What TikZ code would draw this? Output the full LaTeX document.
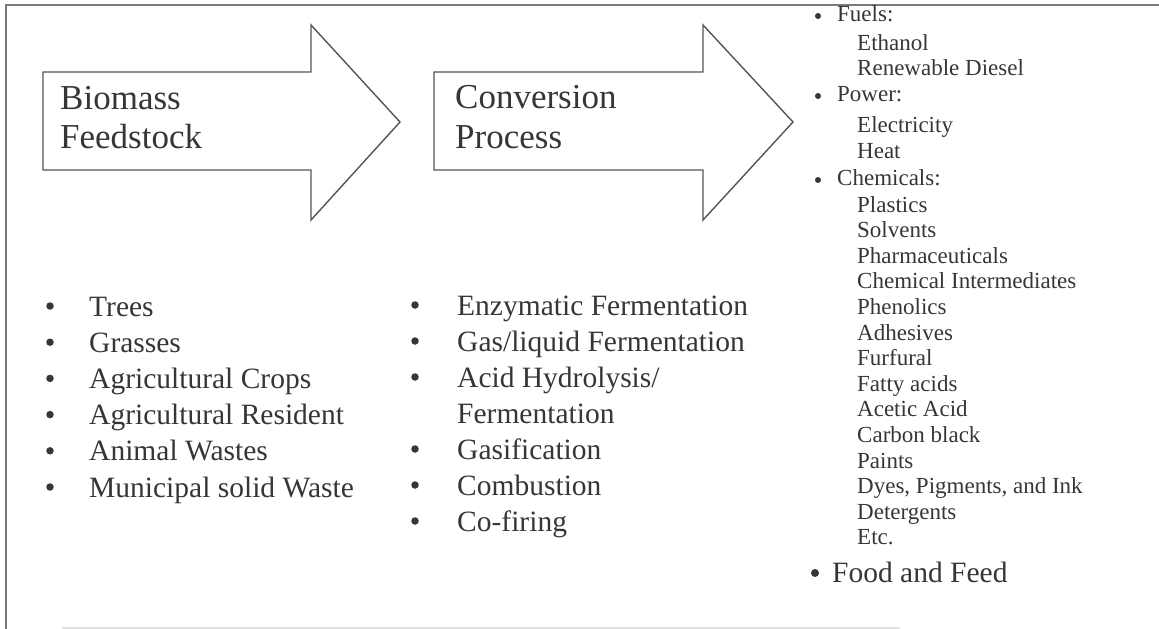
\documentclass[tikz,border=0pt]{standalone}
\usepackage{fontspec}
\setmainfont{Liberation Serif}
\definecolor{txtgray}{HTML}{363636}
\definecolor{linegray}{HTML}{555555}
\definecolor{framegray}{HTML}{7A7A7A}
\definecolor{faintgray}{HTML}{E2E2E2}
\begin{document}
\begin{tikzpicture}[x=1pt,y=-1pt,
  arrowshape/.style={draw=linegray, line width=1.4pt, fill=white, line join=miter},
  bigtxt/.style={anchor=base west, inner sep=0pt, font=\fontsize{35}{39}\selectfont, text=txtgray},
  itemtxt/.style={anchor=base west, inner sep=0pt, font=\fontsize{29.5}{36}\selectfont, text=txtgray},
  smalltxt/.style={anchor=base west, inner sep=0pt, font=\fontsize{23}{26}\selectfont, text=txtgray},
  bigdot/.style={circle, fill=txtgray, inner sep=0pt, minimum size=7.5pt},
  smalldot/.style={circle, fill=txtgray, inner sep=0pt, minimum size=6pt},
  framestyle/.style={draw=framegray, line width=2pt},
  faintstyle/.style={draw=faintgray, line width=1.5pt}]
\useasboundingbox (0,0) rectangle (1159,629);
% frame
\coordinate (ftl) at (6,5);
\coordinate (ftr) at (1159,5);
\coordinate (fbl) at (6,629);
\coordinate (bl) at (62,628);
\coordinate (br) at (900,628);
\draw[framestyle] (ftr) -- (ftl) -- (fbl);
\draw[faintstyle] (bl) -- (br);
% arrow 1
\draw[arrowshape] (43,72) -- (311,72) -- (311,25) -- (400,122) -- (311,220) -- (311,170) -- (43,170) -- cycle;
\node[bigtxt] (bio) at (60,109) {Biomass};
\node[bigtxt] (feed) at (60,148) {Feedstock};
% arrow 2
\draw[arrowshape] (434,72) -- (703,72) -- (703,25) -- (793,122) -- (703,220) -- (703,170) -- (434,170) -- cycle;
\node[bigtxt] (conv) at (455,108) {Conversion};
\node[bigtxt] (proc) at (455,148) {Process};
% left list
\foreach \t [count=\i] in {Trees,Grasses,Agricultural Crops,Agricultural Resident,Animal Wastes,Municipal solid Waste}{
  \node[bigdot] (lb\i) at (50,{316+36.2*(\i-1)-10}) {};
  \node[itemtxt] (lt\i) at (89,{316+36.2*(\i-1)}) {\t};
}
% middle list
\foreach \t/\b [count=\i] in {Enzymatic Fermentation/1,Gas\slash liquid Fermentation/1,Acid Hydrolysis\slash/1,Fermentation/0,Gasification/1,Combustion/1,Co-firing/1}{
  \ifnum\b=1 \node[bigdot] (mb\i) at (415,{315+36*(\i-1)-10}) {};\fi
  \node[itemtxt] (mt\i) at (457,{315+36*(\i-1)}) {\t};
}
% right list
\node[smalldot] (rb1) at (818,16) {};
\node[smalltxt] (r1) at (837,21) {Fuels:};
\node[smalltxt] (r2) at (857,50) {Ethanol};
\node[smalltxt] (r3) at (857,75) {Renewable Diesel};
\node[smalldot] (rb2) at (818,96) {};
\node[smalltxt] (r4) at (837,101) {Power:};
\node[smalltxt] (r5) at (857,132) {Electricity};
\node[smalltxt] (r6) at (857,158) {Heat};
\node[smalldot] (rb3) at (818,180) {};
\node[smalltxt] (r7) at (837,185) {Chemicals:};
\foreach \t [count=\i] in {Plastics,Solvents,Pharmaceuticals,Chemical Intermediates,Phenolics,Adhesives,Furfural,Fatty acids,Acetic Acid,Carbon black,Paints,{Dyes, Pigments, and Ink},Detergents,Etc.}{
  \node[smalltxt] (c\i) at (857,{212+25.6*(\i-1)}) {\t};
}
\node[circle, fill=txtgray, inner sep=0pt, minimum size=8pt] (rb4) at (815,573) {};
\node[itemtxt] (food) at (832,582) {Food and Feed};
\end{tikzpicture}
\end{document}
